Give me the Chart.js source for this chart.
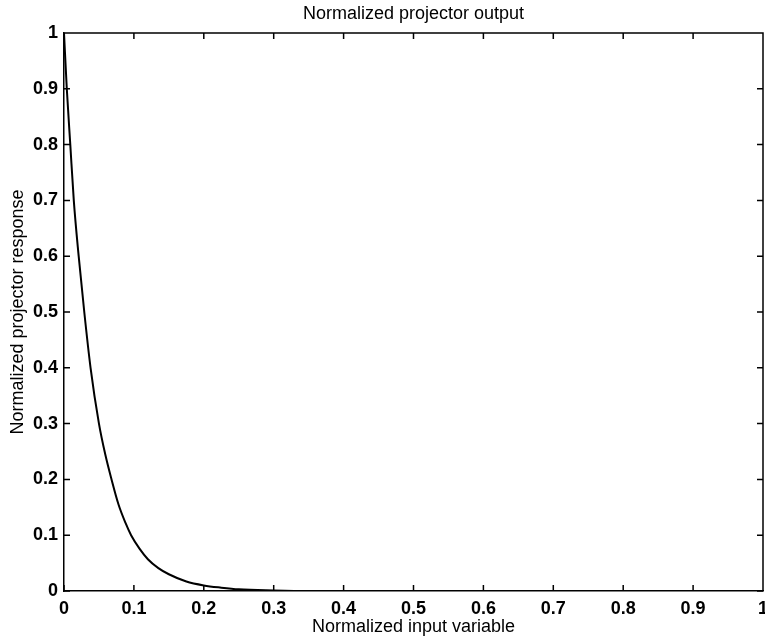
<!DOCTYPE html>
<html>
<head>
<meta charset="utf-8">
<script src="https://cdn.jsdelivr.net/npm/chart.js@4"></script>
<style>
  html, body { margin: 0; padding: 0; background: #fff; }
  canvas { display: block; }
</style>
</head>
<body>
<canvas id="projChart" width="765" height="642"></canvas>
<script>
// Data
const inputX = [0, 0.004, 0.009, 0.014, 0.021, 0.029, 0.038, 0.050, 0.059, 0.068, 0.078, 0.088,
                0.096, 0.108, 0.12, 0.135, 0.15, 0.175, 0.2, 0.225, 0.25, 0.3, 0.35, 0.4,
                0.5, 0.6, 0.7, 0.8, 0.9, 1.0];
const response = [1.0, 0.90, 0.80, 0.70, 0.60, 0.50, 0.40, 0.30, 0.245, 0.20, 0.155, 0.122,
                  0.10, 0.076, 0.057, 0.041, 0.030, 0.017, 0.010, 0.006, 0.003, 0.001, 0, 0,
                  0, 0, 0, 0, 0, 0];
const tickValues = [0, 0.1, 0.2, 0.3, 0.4, 0.5, 0.6, 0.7, 0.8, 0.9, 1];

const titleText = 'Normalized projector output';
const xTitle = 'Normalized input variable';
const yTitle = 'Normalized projector response';

const FONT = 'Arial, "Liberation Sans", Helvetica, sans-serif';

const points = inputX.map((x, i) => ({ x: x, y: response[i] }));

// MATLAB-style frame: top/right border, inward ticks on all sides, title over the plot
const framePlugin = {
    id: 'frame',
    afterDraw(chart) {
        const { ctx, chartArea: a, scales } = chart;
        const len = 6;
        ctx.save();
        ctx.strokeStyle = '#000';
        ctx.lineWidth = 1.5;
        ctx.beginPath();
        ctx.moveTo(a.left, a.top);
        ctx.lineTo(a.right, a.top);
        ctx.lineTo(a.right, a.bottom);
        tickValues.forEach(v => {
            const px = scales.x.getPixelForValue(v);
            ctx.moveTo(px, a.bottom);
            ctx.lineTo(px, a.bottom - len);
            ctx.moveTo(px, a.top);
            ctx.lineTo(px, a.top + len);
            const py = scales.y.getPixelForValue(v);
            ctx.moveTo(a.left, py);
            ctx.lineTo(a.left + len, py);
            ctx.moveTo(a.right, py);
            ctx.lineTo(a.right - len, py);
        });
        ctx.stroke();

        ctx.fillStyle = '#000';
        ctx.font = '18px ' + FONT;
        ctx.textAlign = 'center';
        ctx.textBaseline = 'middle';
        ctx.fillText(titleText, (a.left + a.right) / 2, 14);
        ctx.restore();
    }
};

const ctx = document.getElementById('projChart').getContext('2d');

new Chart(ctx, {
    type: 'line',
    data: {
        datasets: [{
            data: points,
            borderColor: '#000',
            borderWidth: 2,
            pointRadius: 0,
            fill: false,
            cubicInterpolationMode: 'monotone'
        }]
    },
    options: {
        responsive: false,
        animation: false,
        devicePixelRatio: 1,
        layout: { padding: { top: 33, right: 2, left: 0, bottom: 0 } },
        plugins: {
            legend: { display: false },
            tooltip: { enabled: false },
            title: { display: false }
        },
        scales: {
            x: {
                type: 'linear',
                min: 0,
                max: 1,
                afterBuildTicks: s => { s.ticks = tickValues.map(v => ({ value: v })); },
                afterFit: s => { s.height = 51; s.paddingLeft = 0; s.paddingRight = 0; },
                grid: { drawOnChartArea: false, drawTicks: false },
                border: { display: true, color: '#000', width: 1.5 },
                ticks: {
                    color: '#000',
                    padding: 7,
                    maxRotation: 0,
                    font: { family: FONT, size: 18, weight: 'bold' },
                    callback: v => String(Math.round(v * 10) / 10)
                },
                title: {
                    display: true,
                    text: xTitle,
                    color: '#000',
                    font: { family: FONT, size: 18 },
                    padding: { top: 0, bottom: 4 }
                }
            },
            y: {
                type: 'linear',
                min: 0,
                max: 1,
                afterBuildTicks: s => { s.ticks = tickValues.map(v => ({ value: v })); },
                afterFit: s => { s.width = 64; s.paddingTop = 0; s.paddingBottom = 0; },
                grid: { drawOnChartArea: false, drawTicks: false },
                border: { display: true, color: '#000', width: 1.5 },
                ticks: {
                    color: '#000',
                    padding: 6,
                    font: { family: FONT, size: 18, weight: 'bold' },
                    callback: v => String(Math.round(v * 10) / 10)
                },
                title: {
                    display: true,
                    text: yTitle,
                    color: '#000',
                    font: { family: FONT, size: 18 },
                    padding: { top: 7, bottom: 0 }
                }
            }
        }
    },
    plugins: [framePlugin]
});
</script>
</body>
</html>
